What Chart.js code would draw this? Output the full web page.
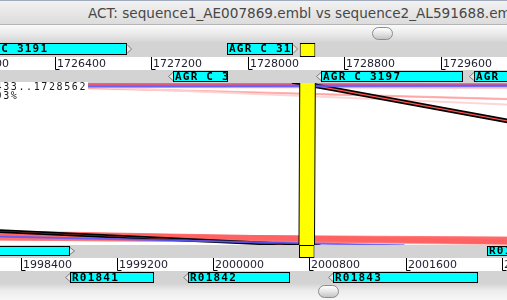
<!DOCTYPE html>
<html>
<head>
<meta charset="utf-8">
<title>ACT</title>
<script src="https://cdn.jsdelivr.net/npm/chart.js@4.4.1/dist/chart.umd.min.js"></script>
<style>
  html, body { margin: 0; padding: 0; background: #fff; overflow: hidden; }
  #frame { position: relative; width: 507px; height: 300px; overflow: hidden; }
  #act { position: absolute; left: 0; top: 0; }
  #titlebar { position: absolute; left: 0; top: 0; width: 507px; height: 25px; box-sizing: border-box;
    border-top: 1px solid #9fabbd; border-bottom: 1px solid #b4b4b4;
    background: linear-gradient(#f2f2f2, #dcdcdc); }
  #titlebar span { position: absolute; left: 88px; top: 4px; font: 13.6px "DejaVu Sans", sans-serif; color: #474747; white-space: nowrap; }
  .scroller { position: absolute; left: 0; width: 507px; height: 17px; background: linear-gradient(#fafafa, #e9e9e9 55%, #d6d6d6); }
  .thumb { position: absolute; top: 2px; width: 21px; height: 13px; box-sizing: border-box; border-radius: 7px;
    border: 1px solid #8c8c8c; background: linear-gradient(#ffffff, #e6e6e6 50%, #c4c4c4); }
</style>
</head>
<body>
<div id="frame">
  <canvas id="act" width="507" height="300"></canvas>
  <div id="titlebar"><span>ACT: sequence1_AE007869.embl vs sequence2_AL591688.embl</span></div>
  <div class="scroller" style="top:25px"><div class="thumb" style="left:372px"></div></div>
  <div class="scroller" style="top:283px;background:linear-gradient(#d2d2d2,#ececec 45%,#f7f7f7)"><div class="thumb" style="left:318px"></div></div>
</div>
<script>
// ruler ticks (bp)
const topTicks = [1725600, 1726400, 1727200, 1728000, 1728800, 1729600, 1730400];
const bottomTicks = [1997600, 1998400, 1999200, 2000000, 2000800, 2001600, 2002400];

// visible part of each sequence (bp)
const topWindow = [1725948, 1730151];
const bottomWindow = [1998228, 2002442];

// top sequence features
const topFwdNames = ['AGR C 3191', 'AGR C 3195'];
const topFwdStart = [1725683, 1727830];
const topFwdEnd = [1727001, 1728377];
const topRevNames = ['AGR C 3193', 'AGR C 3197', 'AGR C 3199'];
const topRevStart = [1727382, 1728609, 1729877];
const topRevEnd = [1727838, 1729786, 1731000];

// bottom sequence features
const botFwdNames = ['R01840', 'R01844'];
const botFwdStart = [1997397, 2002276];
const botFwdEnd = [1998810, 2003100];
const botRevNames = ['R01841', 'R01842', 'R01843'];
const botRevStart = [1998810, 1999791, 2000996];
const botRevEnd = [1999508, 2000638, 2002201];

// selected match
const selTop = [1728433, 1728562];
const selBottom = [2000713, 2000842];
const selIdentity = 93;

// comparison hits
const matchTopStart = [1711061, 1724856, 1725801, 1579375, 1709312, 1507874, 1531550, 1654350, 1728368, 1699489, 1745739, 1667879];
const matchTopEnd   = [1714535, 1725237, 1726000, 1581240, 1724939, 1514862, 1534029, 1656230, 1728504, 1699846, 1760661, 1668252];
const matchBotStart = [2545920, 2048858, 2030100, 2002901, 3389526, 2006636, 2004287, 2002942, 2007994, 2000535, 673448, 2001216];
const matchBotEnd   = [2549398, 2049240, 2030299, 2004768, 3405178, 2013633, 2006769, 2004822, 2008130, 2000892, 688395, 2001590];
const matchStrand   = [1, 1, 1, 1, 1, 1, 1, 1, 1, 1, -1, -1];
const matchIdentity = [64, 72, 60, 70, 92, 88, 86, 90, 95, 92, 88, 80];

// screen rows (y axis runs 0..300 top down)
const rows = {
  topFwd: 49, topSel: 50, topRev: 76.5,
  cmpTop: 83, cmpBottom: 245,
  botFwd: 251, botSel: 251.5, botRev: 277.5,
  topRuler: [57, 70], botRuler: [258, 271]
};
const bands = [[42, 57, '#d3d3d3'], [57, 70, '#ffffff'], [70, 83, '#d3d3d3'],
               [245, 258, '#d3d3d3'], [258, 271, '#ffffff'], [271, 283, '#d3d3d3']];

function matchColour(i) {
  if (matchStrand[i] < 0) return 'rgba(90,90,255,0.9)';
  const t = Math.min(1, Math.max(0, (100 - matchIdentity[i]) / 40));
  const g = Math.round(60 + 150 * t);
  return 'rgb(255,' + g + ',' + g + ')';
}

function touchesSelection(i) {
  return (matchTopStart[i] <= selTop[1] && matchTopEnd[i] >= selTop[0]) ||
         (matchBotStart[i] <= selBottom[1] && matchBotEnd[i] >= selBottom[0]);
}

// the scale clamps pixels to 16 bit, so extend its own mapping for far away hits
function pixelOf(scale, v) {
  const p0 = scale.getPixelForValue(scale.min), p1 = scale.getPixelForValue(scale.max);
  return p0 + (v - scale.min) * (p1 - p0) / (scale.max - scale.min);
}

// cut a polygon to xmin..xmax so the canvas never sees huge coordinates
function clipX(pts, xmin, xmax) {
  const cut = (poly, inside, xc) => {
    const out = [];
    for (let k = 0; k < poly.length; k++) {
      const cur = poly[k], prev = poly[(k + poly.length - 1) % poly.length];
      const hit = () => [xc, prev[1] + (cur[1] - prev[1]) * (xc - prev[0]) / (cur[0] - prev[0])];
      if (inside(cur)) {
        if (!inside(prev)) out.push(hit());
        out.push(cur);
      } else if (inside(prev)) {
        out.push(hit());
      }
    }
    return out;
  };
  let poly = cut(pts, p => p[0] >= xmin, xmin);
  if (poly.length) poly = cut(poly, p => p[0] <= xmax, xmax);
  return poly;
}

function featureSet(names, starts, ends, row, axis, strand, thickness, colour) {
  return {
    data: starts.map((s, i) => ({ x: [s, ends[i]], y: row })),
    names: names,
    strand: strand,
    xAxisID: axis,
    yAxisID: 'y',
    stack: 'tracks',
    barThickness: thickness,
    inflateAmount: 0,
    backgroundColor: colour || '#00ffff',
    borderColor: '#000',
    borderWidth: 1,
    borderSkipped: false
  };
}

const actPlugin = {
  id: 'act',
  beforeDatasetsDraw(chart) {
    const { ctx, chartArea: a, scales } = chart;
    const y = scales.y, xt = scales.xTop, xb = scales.xBot;
    ctx.save();
    bands.forEach(([y0, y1, c]) => {
      ctx.fillStyle = c;
      ctx.fillRect(a.left, y.getPixelForValue(y0), a.right - a.left, y.getPixelForValue(y1) - y.getPixelForValue(y0));
    });

    // comparison area
    const yT = y.getPixelForValue(rows.cmpTop), yB = y.getPixelForValue(rows.cmpBottom);
    ctx.beginPath();
    ctx.rect(a.left, yT, a.right - a.left, yB - yT);
    ctx.clip();
    const trace = (poly) => {
      ctx.beginPath();
      poly.forEach((p, k) => (k ? ctx.lineTo(p[0], p[1]) : ctx.moveTo(p[0], p[1])));
      ctx.closePath();
    };
    matchTopStart.forEach((_, i) => {
      const poly = clipX([
        [pixelOf(xt, matchTopStart[i]), yT],
        [pixelOf(xt, matchTopEnd[i]), yT],
        [pixelOf(xb, matchBotEnd[i]), yB],
        [pixelOf(xb, matchBotStart[i]), yB]
      ], a.left - 30, a.right + 30);
      if (poly.length < 3) return;
      trace(poly);
      ctx.fillStyle = matchColour(i);
      ctx.fill();
      const hot = touchesSelection(i);
      ctx.lineWidth = hot ? 1.7 : 0.8;
      ctx.strokeStyle = hot ? '#000' : matchColour(i);
      ctx.stroke();
    });

    // selected match in yellow
    const s0 = xt.getPixelForValue(selTop[0]), s1 = xt.getPixelForValue(selTop[1]);
    const b0 = xb.getPixelForValue(selBottom[0]), b1 = xb.getPixelForValue(selBottom[1]);
    trace([[s0, yT], [s1, yT], [b1, yB], [b0, yB]]);
    ctx.fillStyle = '#ffff00';
    ctx.fill();
    ctx.strokeStyle = '#000';
    ctx.lineWidth = 1;
    ctx.beginPath(); ctx.moveTo(s0, yT); ctx.lineTo(b0, yB); ctx.stroke();
    ctx.beginPath(); ctx.moveTo(s1, yT); ctx.lineTo(b1, yB); ctx.stroke();
    ctx.restore();
  },
  afterDatasetsDraw(chart) {
    const { ctx, scales } = chart;
    const y = scales.y;
    ctx.save();

    // feature arrows and names
    chart.data.datasets.forEach((ds, di) => {
      const meta = chart.getDatasetMeta(di);
      meta.data.forEach((bar, i) => {
        const p = bar.getProps(['x', 'base', 'y', 'height'], true);
        const l = Math.min(p.x, p.base), r = Math.max(p.x, p.base);
        const top = p.y - p.height / 2, bot = p.y + p.height / 2;
        if (ds.strand) {
          const e = ds.strand > 0 ? r : l, d = ds.strand > 0 ? 4.5 : -4.5;
          ctx.beginPath();
          ctx.moveTo(e, top + 1.5); ctx.lineTo(e + d, p.y); ctx.lineTo(e, bot - 1.5);
          ctx.fillStyle = '#e6e6e6'; ctx.fill();
          ctx.strokeStyle = '#7d7d7d'; ctx.lineWidth = 1; ctx.stroke();
        }
        const name = ds.names[i];
        if (name) {
          ctx.save();
          ctx.beginPath(); ctx.rect(l + 1, top, r - l - 2, p.height); ctx.clip();
          ctx.fillStyle = '#000';
          ctx.font = 'bold 11px "DejaVu Sans Mono"';
          ctx.letterSpacing = '1.2px';
          ctx.textBaseline = 'middle';
          ctx.fillText(name, l + 2, p.y + 0.5);
          ctx.restore();
        }
      });
    });

    // rulers
    const ruler = (scale, ticks, span) => {
      const y0 = y.getPixelForValue(span[0]), y1 = y.getPixelForValue(span[1]);
      ctx.strokeStyle = '#000'; ctx.lineWidth = 1;
      ctx.fillStyle = '#1e1e2e';
      ctx.font = '11px "DejaVu Sans"';
      ctx.letterSpacing = '0px';
      ctx.textBaseline = 'middle';
      ticks.forEach(v => {
        const px = Math.round(scale.getPixelForValue(v)) + 0.5;
        ctx.beginPath();
        ctx.moveTo(px, y0); ctx.lineTo(px, y1 - 0.5); ctx.lineTo(px + 4, y1 - 0.5);
        ctx.stroke();
        ctx.fillText(String(v), px + 1.5, (y0 + y1) / 2 + 0.5);
      });
    };
    ruler(scales.xTop, topTicks, rows.topRuler);
    ruler(scales.xBot, bottomTicks, rows.botRuler);

    // selected match info
    const lines = [selTop[0] + '..' + selTop[1], 'id: ' + selIdentity + '%'];
    ctx.font = '10px "DejaVu Sans Mono"';
    ctx.letterSpacing = '1.6px';
    ctx.textBaseline = 'middle';
    const x0 = 87 - ctx.measureText(lines[0]).width;
    const yT = y.getPixelForValue(rows.cmpTop);
    lines.forEach((t, k) => {
      const w = ctx.measureText(t).width;
      ctx.fillStyle = '#fff';
      ctx.fillRect(0, yT - 1 + k * 9, x0 + w + 1, 9);
      ctx.fillStyle = '#1a1a1a';
      ctx.fillText(t, x0, yT + 4 + k * 9);
    });
    ctx.restore();
  }
};

new Chart(document.getElementById('act'), {
  type: 'bar',
  data: {
    datasets: [
      featureSet(topFwdNames, topFwdStart, topFwdEnd, rows.topFwd, 'xTop', 1, 12),
      featureSet(topRevNames, topRevStart, topRevEnd, rows.topRev, 'xTop', -1, 11),
      featureSet(botFwdNames, botFwdStart, botFwdEnd, rows.botFwd, 'xBot', 1, 10),
      featureSet(botRevNames, botRevStart, botRevEnd, rows.botRev, 'xBot', -1, 11),
      featureSet([''], [selTop[0]], [selTop[1]], rows.topSel, 'xTop', 0, 14, '#ffff00'),
      featureSet([''], [selBottom[0]], [selBottom[1]], rows.botSel, 'xBot', 0, 13, '#ffff00')
    ]
  },
  options: {
    indexAxis: 'y',
    responsive: false,
    animation: false,
    events: [],
    layout: { padding: 0 },
    plugins: { legend: { display: false }, tooltip: { enabled: false } },
    scales: {
      xTop: { type: 'linear', min: topWindow[0], max: topWindow[1], display: false, stacked: false, offset: false },
      xBot: { type: 'linear', min: bottomWindow[0], max: bottomWindow[1], display: false, stacked: false, offset: false },
      y: { type: 'linear', min: 0, max: 300, reverse: true, display: false, offset: false }
    }
  },
  plugins: [actPlugin]
});
</script>
</body>
</html>
